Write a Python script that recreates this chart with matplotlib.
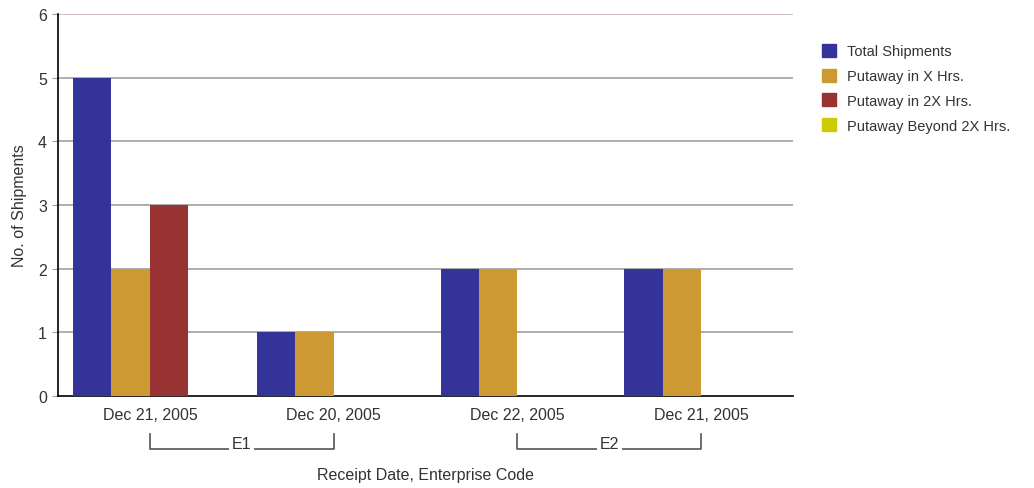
import matplotlib.pyplot as plt
import matplotlib.transforms as mtransforms
from matplotlib.patches import Rectangle
import numpy as np

plt.rcParams["font.family"] = ["Liberation Sans", "DejaVu Sans"]

# data
dates = ["Dec 21, 2005", "Dec 20, 2005", "Dec 22, 2005", "Dec 21, 2005"]
enterprises = ["E1", "E1", "E2", "E2"]
series_names = [
    "Total Shipments",
    "Putaway in X Hrs.",
    "Putaway in 2X Hrs.",
    "Putaway Beyond 2X Hrs.",
]
total_shipments = [5, 1, 2, 2]
putaway_x = [2, 1, 2, 2]
putaway_2x = [3, 0, 0, 0]
putaway_beyond = [0, 0, 0, 0]
y_ticks = [0, 1, 2, 3, 4, 5, 6]

colors = ["#333399", "#cc9933", "#993333", "#cccc00"]
text_color = "#333333"

fig = plt.figure(figsize=(10.34, 4.89), dpi=100)
ax = fig.add_axes([0.0561, 0.1881, 0.7108, 0.7812])

x = np.arange(len(dates))
width = 0.209
all_series = [total_shipments, putaway_x, putaway_2x, putaway_beyond]
for j, (vals, name, col) in enumerate(zip(all_series, series_names, colors)):
    ax.bar(x + (j - 1.5) * width, vals, width, color=col, label=name, zorder=3)

ax.set_xlim(-0.5, len(dates) - 0.5)
ax.set_ylim(0, 6)
ax.set_yticks(y_ticks)
ax.set_xticks(x)
ax.set_xticklabels(dates)

for t in y_ticks[1:]:
    ax.axhline(t, color="#c8b4bc" if t == 6 else "#a0a0a0", lw=1.2, zorder=1)

for s in ["top", "right"]:
    ax.spines[s].set_visible(False)
ax.spines["left"].set_color("black")
ax.spines["bottom"].set_color("black")
ax.spines["left"].set_linewidth(1.2)
ax.spines["bottom"].set_linewidth(1.2)

ax.tick_params(axis="y", length=4, color="#a0a0a0", labelsize=11.5,
               labelcolor=text_color, pad=4)
ax.tick_params(axis="x", length=0, labelsize=11.5, labelcolor=text_color, pad=8)

ax.set_ylabel("No. of Shipments", fontsize=11.5, color=text_color, labelpad=8)
ax.set_xlabel("Receipt Date, Enterprise Code", fontsize=11.5, color=text_color)
ax.xaxis.set_label_coords(0.5, -0.185)

# enterprise brackets below the date labels
trans = mtransforms.blended_transform_factory(ax.transData, ax.transAxes)
y_top, y_bot = -0.099, -0.139
for ent in dict.fromkeys(enterprises):
    idx = [i for i, e in enumerate(enterprises) if e == ent]
    x0, x1 = x[idx[0]], x[idx[-1]]
    ax.plot([x0, x0, x1, x1], [y_top, y_bot, y_bot, y_top], color="#555555",
            lw=1.2, transform=trans, clip_on=False)
    ax.text((x0 + x1) / 2, y_bot - 0.005, ent, transform=trans, ha="center",
            va="bottom", fontsize=11.5, color=text_color,
            bbox=dict(facecolor="white", edgecolor="none", pad=2))

handles = [Rectangle((0, 0), 1, 1, color=c) for c in colors]
fig.legend(handles, series_names, loc="upper left",
           bbox_to_anchor=(0.782, 0.935), frameon=False, fontsize=10.5,
           handlelength=1.0, handleheight=1.0, handletextpad=0.7,
           labelspacing=0.7, labelcolor=text_color)

fig.savefig("out.png", dpi=100)
